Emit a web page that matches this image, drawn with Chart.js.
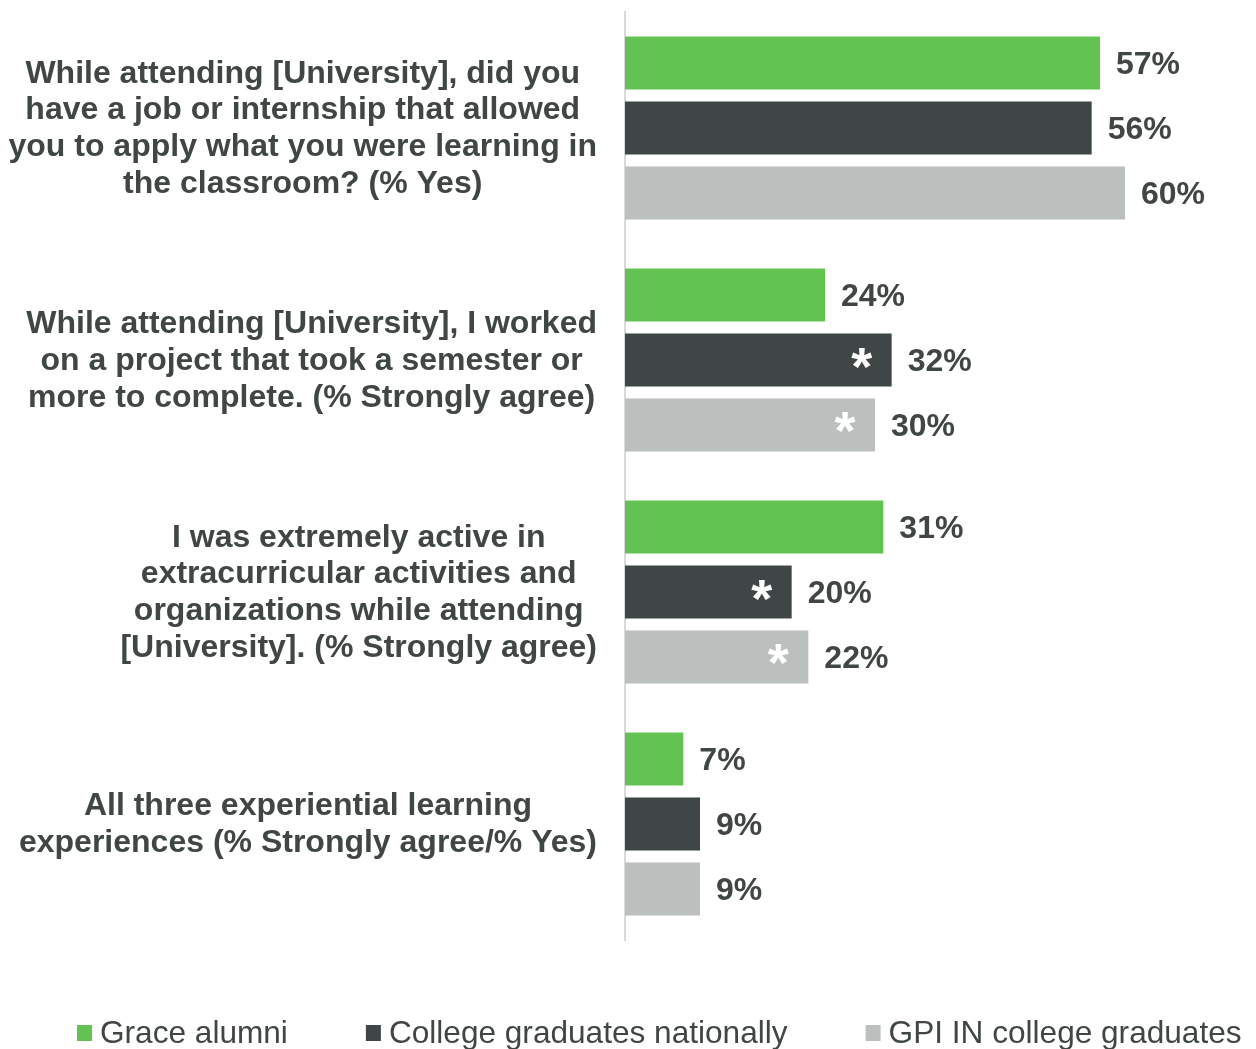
<!DOCTYPE html>
<html>
<head>
<meta charset="utf-8">
<script src="https://cdn.jsdelivr.net/npm/chart.js@4.4.1/dist/chart.umd.min.js"></script>
<style>
    html, body { margin: 0; padding: 0; background: #ffffff; }
    #wrap { width: 1256px; height: 1049px; position: relative; }
</style>
</head>
<body>
<div id="wrap"><canvas id="experientialChart"></canvas></div>
<script>
const categories = [
    ["While attending [University], did you", "have a job or internship that allowed", "you to apply what you were learning in", "the classroom? (% Yes)"],
    ["While attending [University], I worked", "on a project that took a semester or", "more to complete. (% Strongly agree)"],
    ["I was extremely active in", "extracurricular activities and", "organizations while attending", "[University]. (% Strongly agree)"],
    ["All three experiential learning", "experiences (% Strongly agree/% Yes)"]
];
const graceAlumni = [57, 24, 31, 7];
const gradsNationally = [56, 32, 20, 9];
const gpiGraduates = [60, 30, 22, 9];
// asterisk = significant difference vs Grace alumni
const nationallySignificant = [false, true, true, false];
const gpiSignificant = [false, true, true, false];

const TEXT = "#404646";
const FONT = "'Liberation Sans', Arial, sans-serif";

const categoryLabels = {
    id: "categoryLabels",
    afterDraw(chart) {
        const { ctx } = chart;
        const yScale = chart.scales.y;
        const rightEdge = 597;
        const lineHeight = 36.8;
        ctx.save();
        ctx.font = `700 32px ${FONT}`;
        ctx.fillStyle = TEXT;
        ctx.textAlign = "center";
        ctx.textBaseline = "middle";
        categories.forEach((lines, i) => {
            const widest = Math.max(...lines.map(line => ctx.measureText(line).width));
            const cx = rightEdge - widest / 2;
            const cy = yScale.getPixelForValue(i);
            const top = cy - (lines.length - 1) * lineHeight / 2;
            lines.forEach((line, j) => ctx.fillText(line, cx, top + j * lineHeight + 1));
        });
        ctx.restore();
    }
};

const valueLabels = {
    id: "valueLabels",
    afterDatasetsDraw(chart) {
        const { ctx } = chart;
        ctx.save();
        chart.data.datasets.forEach((dataset, d) => {
            const meta = chart.getDatasetMeta(d);
            meta.data.forEach((bar, i) => {
                ctx.font = `700 32px ${FONT}`;
                ctx.fillStyle = TEXT;
                ctx.textAlign = "left";
                ctx.textBaseline = "middle";
                ctx.fillText(dataset.data[i] + "%", bar.x + 16, bar.y + 2);
                if (dataset.significant && dataset.significant[i]) {
                    ctx.font = `700 54px ${FONT}`;
                    ctx.fillStyle = "#ffffff";
                    ctx.textAlign = "center";
                    ctx.textBaseline = "alphabetic";
                    const m = ctx.measureText("*");
                    const glyphMid = (m.actualBoundingBoxAscent - m.actualBoundingBoxDescent) / 2;
                    ctx.fillText("*", bar.x - 30, bar.y - 2 + glyphMid);
                }
            });
        });
        ctx.restore();
    }
};

const bottomLegend = {
    id: "bottomLegend",
    afterDraw(chart) {
        const { ctx } = chart;
        const y = 1033;
        let x = 77;
        ctx.save();
        ctx.font = `400 31.6px ${FONT}`;
        ctx.textBaseline = "middle";
        ctx.textAlign = "left";
        chart.data.datasets.forEach(dataset => {
            ctx.fillStyle = dataset.backgroundColor;
            ctx.fillRect(x, y - 8, 15, 16);
            ctx.fillStyle = TEXT;
            ctx.fillText(dataset.label, x + 23, y + 1);
            x += 23 + ctx.measureText(dataset.label).width + 78;
        });
        ctx.restore();
    }
};

new Chart(document.getElementById("experientialChart"), {
    type: "bar",
    data: {
        labels: categories.map(lines => lines.join(" ")),
        datasets: [
            { label: "Grace alumni", data: graceAlumni, backgroundColor: "#62c352" },
            { label: "College graduates nationally", data: gradsNationally, backgroundColor: "#404646", significant: nationallySignificant },
            { label: "GPI IN college graduates", data: gpiGraduates, backgroundColor: "#bbc0bf", significant: gpiSignificant }
        ]
    },
    options: {
        indexAxis: "y",
        responsive: true,
        maintainAspectRatio: false,
        animation: false,
        layout: { padding: { top: 12, bottom: 109, left: 0, right: 6 } },
        datasets: {
            bar: { categoryPercentage: 0.84, barPercentage: 0.815, borderWidth: 0 }
        },
        plugins: {
            legend: { display: false },
            tooltip: { enabled: false }
        },
        scales: {
            x: { display: false, min: 0, max: 75 },
            y: {
                grid: { display: false },
                border: { display: true, color: "#d9d9d9", width: 2 },
                ticks: { display: false },
                afterFit(scale) {
                    scale.width = 625;
                }
            }
        }
    },
    plugins: [categoryLabels, valueLabels, bottomLegend]
});
</script>
</body>
</html>
